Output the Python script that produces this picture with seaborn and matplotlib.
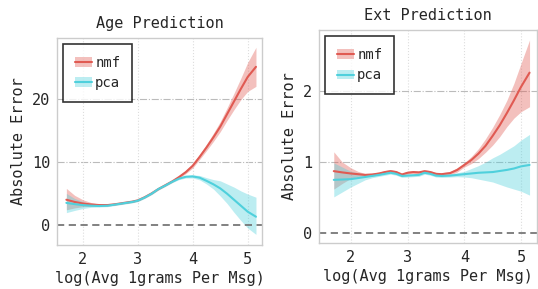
#!/usr/bin/env python3
"""
Absolute error vs log message length, nmf vs pca (age & ext)
"""
import matplotlib
matplotlib.use('Agg')
import matplotlib.pyplot as plt
import seaborn as sns
import pandas as pd
import numpy as np
from matplotlib.lines import Line2D
from matplotlib.patches import Patch
from matplotlib.ticker import MultipleLocator

sns.set_style('white')
plt.rcParams['font.family'] = ['DejaVu Sans Mono', 'DejaVu Sans']

# Age panel, values
x_age = [1.7, 1.85, 2.0, 2.15, 2.3, 2.45, 2.6, 2.75, 2.9, 3.0, 3.125, 3.25, 3.375, 3.5,
         3.625, 3.75, 3.875, 4.0, 4.125, 4.25, 4.375, 4.5, 4.625, 4.75, 4.875, 5.0, 5.15]
age_nmf = [4.0, 3.65, 3.4, 3.25, 3.15, 3.15, 3.3, 3.5, 3.7, 3.9, 4.4, 5.0, 5.7, 6.3,
           6.9, 7.6, 8.4, 9.4, 10.8, 12.3, 13.9, 15.6, 17.6, 19.6, 21.6, 23.5, 25.1]
age_nmf_lo = [2.4, 2.7, 2.9, 2.95, 3.0, 3.0, 3.15, 3.35, 3.55, 3.75, 4.25, 4.85, 5.55, 6.15,
              6.75, 7.4, 8.15, 9.05, 10.4, 11.8, 13.25, 14.8, 16.6, 18.3, 19.9, 21.2, 22.0]
age_nmf_hi = [5.8, 4.7, 4.0, 3.55, 3.3, 3.3, 3.45, 3.65, 3.85, 4.05, 4.55, 5.15, 5.85, 6.45,
              7.05, 7.8, 8.65, 9.75, 11.2, 12.8, 14.55, 16.4, 18.6, 20.9, 23.3, 25.8, 28.2]
age_pca = [3.5, 3.3, 3.15, 3.05, 3.0, 3.05, 3.25, 3.45, 3.65, 3.85, 4.35, 4.95, 5.7, 6.25,
           6.85, 7.35, 7.65, 7.7, 7.5, 7.0, 6.45, 5.8, 4.95, 4.0, 3.05, 2.1, 1.3]
age_pca_lo = [1.95, 2.3, 2.6, 2.8, 2.85, 2.9, 3.1, 3.3, 3.5, 3.7, 4.2, 4.8, 5.55, 6.1,
              6.7, 7.2, 7.45, 7.45, 7.15, 6.5, 5.7, 4.6, 3.4, 2.0, 0.7, -0.5, -1.5]
age_pca_hi = [5.0, 4.2, 3.7, 3.3, 3.15, 3.2, 3.4, 3.6, 3.8, 4.0, 4.5, 5.1, 5.85, 6.4,
              7.0, 7.5, 7.85, 7.95, 7.85, 7.5, 7.2, 7.0, 6.5, 6.0, 5.4, 4.9, 4.4]

# Ext panel
x_ext = [1.7, 1.85, 2.0, 2.125, 2.25, 2.375, 2.5, 2.6, 2.7, 2.8, 2.9, 3.0, 3.1, 3.2, 3.3,
         3.4, 3.5, 3.6, 3.75, 3.875, 4.0, 4.125, 4.25, 4.375, 4.5, 4.625, 4.75, 4.875, 5.0, 5.15]
ext_nmf = [0.873, 0.855, 0.84, 0.83, 0.82, 0.825, 0.84, 0.86, 0.873, 0.86, 0.825, 0.85,
           0.86, 0.855, 0.872, 0.86, 0.835, 0.83, 0.845, 0.89, 0.96, 1.03, 1.12, 1.23,
           1.37, 1.52, 1.69, 1.87, 2.06, 2.26]
ext_nmf_lo = [0.62, 0.70, 0.77, 0.80, 0.80, 0.805, 0.82, 0.84, 0.853, 0.84, 0.805, 0.83,
              0.84, 0.835, 0.852, 0.84, 0.815, 0.81, 0.82, 0.86, 0.93, 0.98, 1.05, 1.14,
              1.24, 1.36, 1.50, 1.62, 1.71, 1.78]
ext_nmf_hi = [1.145, 1.0, 0.92, 0.87, 0.84, 0.845, 0.86, 0.88, 0.893, 0.88, 0.845, 0.87,
              0.88, 0.875, 0.892, 0.88, 0.855, 0.85, 0.87, 0.92, 0.99, 1.08, 1.19, 1.33,
              1.49, 1.67, 1.87, 2.11, 2.39, 2.72]
ext_pca = [0.75, 0.755, 0.76, 0.775, 0.79, 0.805, 0.82, 0.835, 0.85, 0.835, 0.805, 0.81,
           0.815, 0.82, 0.85, 0.835, 0.81, 0.805, 0.81, 0.82, 0.83, 0.84, 0.85, 0.855,
           0.86, 0.875, 0.89, 0.91, 0.94, 0.96]
ext_pca_lo = [0.51, 0.58, 0.65, 0.70, 0.75, 0.78, 0.80, 0.815, 0.83, 0.815, 0.785, 0.79,
              0.795, 0.80, 0.83, 0.815, 0.79, 0.785, 0.79, 0.795, 0.79, 0.78, 0.76, 0.74,
              0.72, 0.685, 0.65, 0.62, 0.59, 0.535]
ext_pca_hi = [0.99, 0.93, 0.87, 0.85, 0.83, 0.83, 0.84, 0.855, 0.87, 0.855, 0.825, 0.83,
              0.835, 0.84, 0.87, 0.855, 0.83, 0.825, 0.83, 0.85, 0.87, 0.91, 0.95, 1.0,
              1.06, 1.11, 1.17, 1.23, 1.31, 1.39]

NMF_COLOR = '#e05a52'
PCA_COLOR = '#4fd0dc'


def draw_panel(ax, x, series, title, xlim, ylim, major, minor):
    """Draw one panel: lines plus confidence bands"""
    for name, (mid, lo, hi), color in series:
        df = pd.DataFrame({'x': x, 'y': mid})
        ax.fill_between(x, lo, hi, color=color, alpha=0.38, linewidth=0)
        sns.lineplot(data=df, x='x', y='y', ax=ax, color=color, linewidth=1.5)

    ax.axhline(0, color='#777777', linestyle=(0, (4, 2.5)), linewidth=1.3)
    ax.set_xlim(*xlim)
    ax.set_ylim(*ylim)
    ax.xaxis.set_major_locator(MultipleLocator(1))
    ax.xaxis.set_minor_locator(MultipleLocator(0.5))
    ax.yaxis.set_major_locator(MultipleLocator(major))
    ax.yaxis.set_minor_locator(MultipleLocator(minor))

    for v in np.arange(major, ylim[1], major):
        ax.axhline(v, color='#bbbbbb', linestyle='-.', linewidth=0.8, zorder=0)
    for v in [2, 3, 4, 5]:
        ax.axvline(v, color='#dddddd', linestyle=':', linewidth=0.8, zorder=0)

    ax.tick_params(which='major', length=3, color='#666666', labelsize=11, pad=2)
    ax.tick_params(which='minor', length=2, color='#666666')
    for sp in ax.spines.values():
        sp.set_color('#cccccc')
        sp.set_linewidth(1.0)

    ax.set_title(title, fontsize=11, pad=7)
    ax.set_xlabel('log(Avg 1grams Per Msg)', fontsize=11, labelpad=3)
    ax.set_ylabel('Absolute Error', fontsize=11)

    handles = [(Patch(facecolor=c, alpha=0.38, linewidth=0), Line2D([], [], color=c, linewidth=1.5))
               for _, _, c in series]
    leg = ax.legend(handles, [s[0] for s in series], loc='upper left', fontsize=10,
                    frameon=True, fancybox=False, borderpad=0.85, handlelength=1.2,
                    handletextpad=0.25, labelspacing=0.45, borderaxespad=0.45)
    leg.get_frame().set_edgecolor('black')
    leg.get_frame().set_linewidth(1.2)


fig = plt.figure(figsize=(5.38, 2.89), dpi=100)
ax1 = fig.add_axes([0.106, 0.152, 0.381, 0.717])
ax2 = fig.add_axes([0.593, 0.159, 0.405, 0.737])

draw_panel(ax1, x_age,
           [('nmf', (age_nmf, age_nmf_lo, age_nmf_hi), NMF_COLOR),
            ('pca', (age_pca, age_pca_lo, age_pca_hi), PCA_COLOR)],
           'Age Prediction', (1.53, 5.26), (-3.2, 29.7), 10, 5)
draw_panel(ax2, x_ext,
           [('nmf', (ext_nmf, ext_nmf_lo, ext_nmf_hi), NMF_COLOR),
            ('pca', (ext_pca, ext_pca_lo, ext_pca_hi), PCA_COLOR)],
           'Ext Prediction', (1.44, 5.28), (-0.14, 2.86), 1, 0.5)

plt.savefig('out.png', dpi=100)
plt.close()
